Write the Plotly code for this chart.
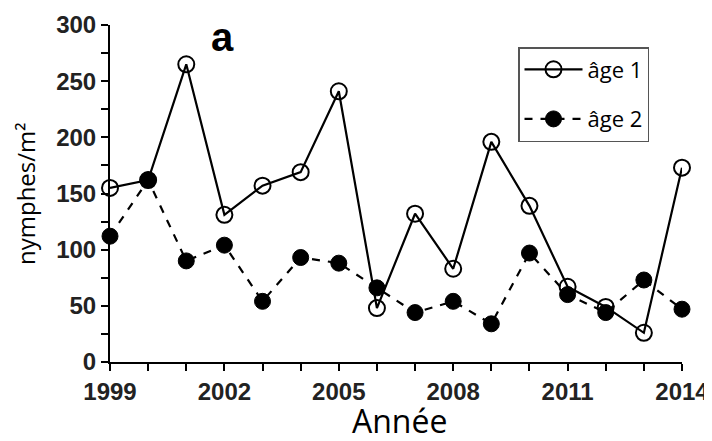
import plotly.graph_objects as go

years = list(range(1999, 2015))
age1 = [155, 162, 265, 131, 157, 169, 241, 48, 132, 83, 196, 139, 67, 49, 26, 173]
age2 = [112, 162, 90, 104, 54, 93, 88, 66, 44, 54, 34, 97, 60, 44, 73, 47]
x_labels = {1999: "1999", 2002: "2002", 2005: "2005", 2008: "2008", 2011: "2011", 2014: "2014"}
y_ticks = list(range(0, 301, 25))

# page has an 8px body margin; work in page pixels and convert
O = 8
W, H = 712 - O, 441 - O
L, R, T, B = 110 - O, 30, 25 - O, 79
PW, PH = W - L - R, H - T - B


def px(xp):
    return (xp - O - L) / PW


def py(yp):
    return (H - B - (yp - O)) / PH


fig = go.Figure()
fig.add_trace(go.Scatter(
    x=years, y=age1, name="âge 1", mode="lines+markers",
    line=dict(color="black", width=2.2),
    marker=dict(symbol="circle-open", size=16, color="black", line=dict(color="black", width=2)),
    cliponaxis=False, legendgroup="a"))
fig.add_trace(go.Scatter(
    x=years, y=age2, name="âge 2", mode="lines+markers",
    line=dict(color="black", width=2.2, dash="8px,8px"),
    marker=dict(symbol="circle", size=16, color="black", line=dict(color="black", width=1)),
    cliponaxis=False, legendgroup="b"))

fig.update_layout(
    width=W, height=H,
    margin=dict(l=L, r=R, t=T, b=B, autoexpand=False),
    paper_bgcolor="white", plot_bgcolor="white",
    showlegend=True,
    legend=dict(x=px(518), y=py(47), xanchor="left", yanchor="top",
                bordercolor="#555", borderwidth=1.5, bgcolor="white",
                font=dict(family="Open Sans", size=22, color="black"),
                tracegroupgap=18, traceorder="grouped", itemwidth=58),
    annotations=[
        dict(text="<b>a</b>", x=px(222), y=py(37), xref="paper", yref="paper",
             xanchor="center", yanchor="middle", showarrow=False,
             font=dict(family="Liberation Sans", size=40, color="black")),
        dict(text="Année", x=px(399), y=py(420), xref="paper", yref="paper",
             xanchor="center", yanchor="middle", showarrow=False,
             font=dict(family="Open Sans", size=32, color="black")),
        dict(text="nymphes/m²", x=px(25), y=py(194), xref="paper", yref="paper",
             xanchor="center", yanchor="middle", showarrow=False, textangle=-90,
             font=dict(family="Open Sans", size=24, color="black")),
    ],
)

fig.update_xaxes(
    range=[1999, 2014], showgrid=False, zeroline=False, automargin=False,
    showline=True, linecolor="black", linewidth=2,
    ticks="outside", ticklen=7, tickwidth=2, tickcolor="black",
    tickvals=years, ticktext=[x_labels.get(y, "") for y in years],
    tickfont=dict(family="Liberation Sans", size=24, color="#222", weight="bold"),
)
fig.update_yaxes(
    range=[0, 300], showgrid=False, zeroline=False, automargin=False,
    showline=True, linecolor="black", linewidth=2,
    ticks="outside", ticklen=7, tickwidth=2, tickcolor="black",
    tickvals=y_ticks, ticktext=[str(v) if v % 50 == 0 else "" for v in y_ticks],
    tickfont=dict(family="Liberation Sans", size=24, color="#222", weight="bold"),
)
fig.write_html("out.html")
